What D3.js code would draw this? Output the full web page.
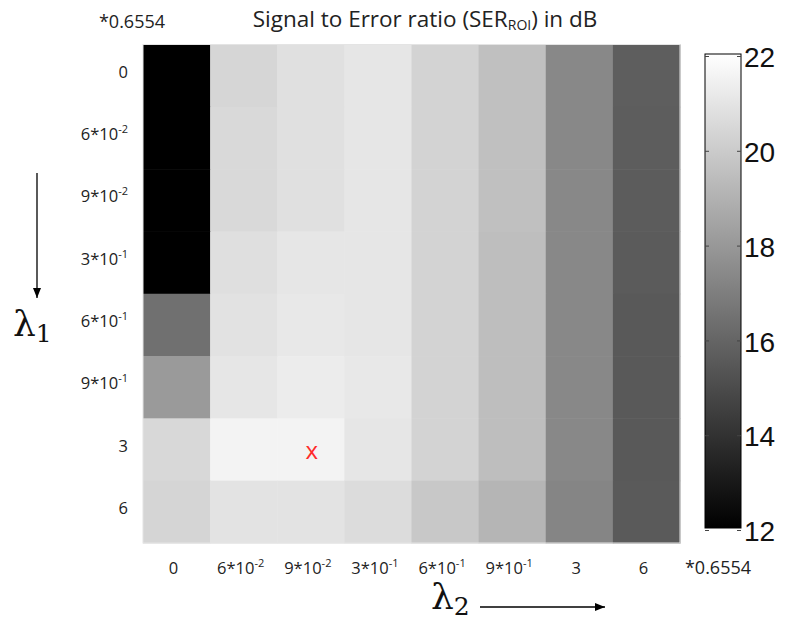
<!DOCTYPE html>
<html>
<head>
<meta charset="utf-8">
<script src="https://cdn.jsdelivr.net/npm/d3@7"></script>
<style>
  body { margin: 0; background: #fff; }
  text { font-family: "Open Sans", sans-serif; }
</style>
</head>
<body>
<svg id="chart"></svg>
<script>
const svgWidth = 788, svgHeight = 631;

// lambda values (same list on both axes), times 0.6554
const lambda1Labels = [["0"], ["6*10", "-2"], ["9*10", "-2"], ["3*10", "-1"], ["6*10", "-1"], ["9*10", "-1"], ["3"], ["6"]];
const lambda2Labels = lambda1Labels;

// SER_ROI in dB, one row per lambda1, one column per lambda2
const row0 = [12.0, 20.39, 20.78, 21.02, 20.27, 19.53, 17.33, 15.69];
const row1 = [12.0, 20.51, 20.78, 21.02, 20.27, 19.53, 17.33, 15.65];
const row2 = [12.0, 20.51, 20.78, 21.02, 20.27, 19.53, 17.33, 15.60];
const row3 = [12.0, 20.75, 21.02, 21.02, 20.27, 19.45, 17.33, 15.55];
const row4 = [16.39, 20.86, 21.10, 21.02, 20.27, 19.45, 17.33, 15.50];
const row5 = [18.04, 21.02, 21.25, 21.10, 20.27, 19.45, 17.33, 15.50];
const row6 = [20.47, 21.53, 21.53, 21.02, 20.27, 19.45, 17.33, 15.50];
const row7 = [20.35, 20.90, 20.90, 20.63, 19.84, 19.10, 17.22, 15.53];
const serRows = [row0, row1, row2, row3, row4, row5, row6, row7];

// best setting, marked with a red x
const bestRow = 6, bestCol = 2;

const colorTicks = [12, 14, 16, 18, 20, 22];

const chart = d3.select("#chart").attr("width", svgWidth).attr("height", svgHeight);

const grid = {left: 143, top: 44.5, right: 680, bottom: 543};

var xScale = d3.scaleBand().domain(d3.range(8)).range([grid.left, grid.right]);
var yScale = d3.scaleBand().domain(d3.range(8)).range([grid.top, grid.bottom]);
var color = d3.scaleLinear().domain([12, 22]).range(["#000", "#fff"]).clamp(true);

// cells
var cells = [];
serRows.forEach((r, i) => r.forEach((v, j) => cells.push({row: i, col: j, value: v})));

chart.append("g").selectAll("rect")
    .data(cells)
    .enter()
    .append("rect")
    .attr("x", d => xScale(d.col))
    .attr("y", d => yScale(d.row))
    .attr("width", xScale.bandwidth() + 0.5)
    .attr("height", yScale.bandwidth() + 0.5)
    .attr("fill", d => color(d.value));

chart.append("rect")
    .attr("x", grid.left).attr("y", grid.top)
    .attr("width", grid.right - grid.left).attr("height", grid.bottom - grid.top)
    .attr("fill", "none").attr("stroke", "#e4e4e4").attr("stroke-width", 1);

chart.append("text")
    .attr("x", xScale(bestCol) + xScale.bandwidth() / 2 + 1)
    .attr("y", yScale(bestRow) + yScale.bandwidth() / 2 + 9)
    .attr("text-anchor", "middle")
    .style("font-size", "24px")
    .style("fill", "#ff2a2a")
    .text("x");

// tick label with superscript exponent
function tickLabel(sel) {
    sel.each(function(d) {
        var t = d3.select(this);
        t.append("tspan").text(d[0]);
        if (d[1]) t.append("tspan").attr("dy", -7).style("font-size", "11px").text(d[1]);
    });
}

chart.append("g").selectAll("text")
    .data(lambda1Labels)
    .enter()
    .append("text")
    .attr("x", 128)
    .attr("y", (d, i) => yScale(i) + yScale.bandwidth() / 2 + 2)
    .attr("text-anchor", "end")
    .style("font-size", "16.5px")
    .style("fill", "#222")
    .call(tickLabel);

chart.append("g").selectAll("text")
    .data(lambda2Labels)
    .enter()
    .append("text")
    .attr("x", (d, i) => xScale(i) + xScale.bandwidth() / 2 - 3)
    .attr("y", 574)
    .attr("text-anchor", "middle")
    .style("font-size", "16.5px")
    .style("fill", "#222")
    .call(tickLabel);

chart.append("text").attr("x", 132).attr("y", 28).attr("text-anchor", "middle")
    .style("font-size", "18px").style("fill", "#222").text("*0.6554");
chart.append("text").attr("x", 718).attr("y", 574).attr("text-anchor", "middle")
    .style("font-size", "18px").style("fill", "#222").text("*0.6554");

// title
var title = chart.append("text").attr("x", 425).attr("y", 27).attr("text-anchor", "middle")
    .style("font-size", "22.5px").style("fill", "#222");
title.append("tspan").text("Signal to Error ratio (SER");
title.append("tspan").attr("dy", 3).style("font-size", "14px").text("ROI");
title.append("tspan").attr("dy", -3).text(") in dB");

// lambda axis names with arrows
chart.append("defs").append("marker")
    .attr("id", "arrow").attr("viewBox", "0 0 10 10").attr("refX", 10).attr("refY", 5)
    .attr("markerWidth", 10).attr("markerHeight", 10).attr("markerUnits", "userSpaceOnUse")
    .attr("orient", "auto")
    .append("path").attr("d", "M0,1 L10,5 L0,9 Z").attr("fill", "#000");

chart.append("line").attr("x1", 37).attr("y1", 173).attr("x2", 37).attr("y2", 298)
    .attr("stroke", "#000").attr("stroke-width", 1.3).attr("marker-end", "url(#arrow)");
chart.append("line").attr("x1", 480).attr("y1", 607).attr("x2", 605).attr("y2", 607)
    .attr("stroke", "#000").attr("stroke-width", 1.3).attr("marker-end", "url(#arrow)");

function lambdaName(x, y, sub) {
    var t = chart.append("text").attr("x", x).attr("y", y)
        .style("font-family", "'DejaVu Serif', serif").style("font-size", "36px").style("fill", "#111");
    t.append("tspan").text("\u03bb");
    t.append("tspan").attr("dy", 6).style("font-size", "25px").text(sub);
}
lambdaName(13, 336, "1");
lambdaName(431, 609, "2");

// colorbar
const bar = {x: 705, w: 36, top: 54, bottom: 528};
var barScale = d3.scaleLinear().domain([12, 22]).range([bar.bottom + 2, bar.top + 2]);

var grad = chart.select("defs").append("linearGradient")
    .attr("id", "gray").attr("x1", 0).attr("y1", 1).attr("x2", 0).attr("y2", 0);
grad.append("stop").attr("offset", 0).attr("stop-color", color(12));
grad.append("stop").attr("offset", 1).attr("stop-color", color(22));

chart.append("rect").attr("x", bar.x).attr("y", bar.top)
    .attr("width", bar.w).attr("height", bar.bottom - bar.top)
    .attr("fill", "url(#gray)").attr("stroke", "#000").attr("stroke-width", 1);

var barAxis = chart.append("g").attr("transform", `translate(${bar.x + bar.w},0)`)
    .call(d3.axisRight(barScale).tickValues(colorTicks).tickSize(-4).tickPadding(6));
barAxis.select(".domain").remove();
barAxis.selectAll("text")
    .style("font-family", "'Liberation Sans', Arial, sans-serif")
    .style("font-size", "28px").attr("dx", -3).attr("dy", "0.38em").style("fill", "#111");

chart.append("g").attr("transform", `translate(${bar.x},0)`)
    .call(d3.axisLeft(barScale).tickValues(colorTicks).tickSize(-4).tickFormat(""))
    .select(".domain").remove();
chart.selectAll(".tick line").attr("stroke", "#444");
</script>
</body>
</html>
